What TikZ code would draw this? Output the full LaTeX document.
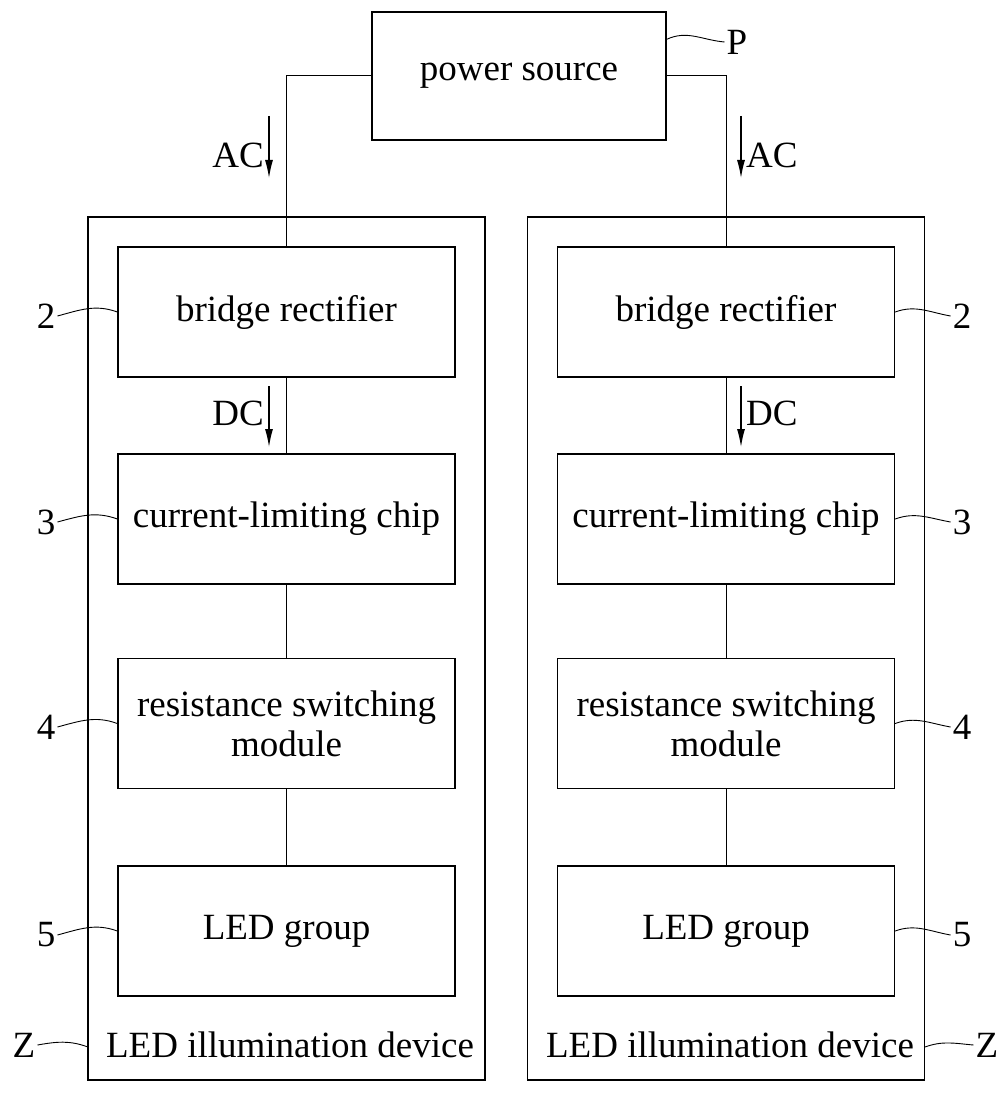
\documentclass[tikz,border=0pt]{standalone}
\usepackage{fontspec}
\setmainfont{Liberation Serif}
\usetikzlibrary{arrows.meta,positioning,calc}

\begin{document}
\begin{tikzpicture}[
  x=1pt, y=-1pt, font=\fontsize{37}{40}\selectfont,
  blk/.style={rectangle, draw=black, line width=1.3pt, fill=white,
              align=center, inner sep=0pt, minimum width=337pt, minimum height=130pt},
  dev/.style={rectangle, draw=black, line width=1.3pt,
              minimum width=397pt, minimum height=863pt},
  wire/.style={line width=1pt, draw=black},
  flow/.style={-{Latex[length=18pt,width=8pt]}, line width=1.2pt},
  lead/.style={line width=0.9pt, draw=black},
  num/.style={inner sep=2pt}]

  \useasboundingbox (0,0) rectangle (1005,1094);

  % ---------- devices ----------
  \node[dev] (devL) at (286.5,648.5) {};
  \node[dev] (devR) at (726,648.5) {};
  \node (txtL) at (290,1045) {LED illumination device};
  \node (txtR) at (730,1045) {LED illumination device};

  % ---------- power source ----------
  \node[blk,minimum width=294pt,minimum height=128pt] (ps) at (519,76) {power source};

  % ---------- left chain ----------
  \node[blk] (brL)  at (286.5,312) {bridge rectifier};
  \node[blk] (clL)  at (286.5,519) {current-limiting chip};
  \node[blk] (rsL)  at (286.5,723.5) {resistance switching\\module};
  \node[blk] (ledL) at (286.5,931) {LED group};

  % ---------- right chain ----------
  \node[blk] (brR)  at (726,312) {bridge rectifier};
  \node[blk] (clR)  at (726,519) {current-limiting chip};
  \node[blk] (rsR)  at (726,723.5) {resistance switching\\module};
  \node[blk] (ledR) at (726,931) {LED group};

  % supply wires
  \draw[wire] (ps.west) -- (ps.west -| brL.north) -- (brL.north);
  \draw[wire] (ps.east) -- (ps.east -| brR.north) -- (brR.north);
  \foreach \a/\b in {brL/clL, clL/rsL, rsL/ledL, brR/clR, clR/rsR, rsR/ledR}
    \draw[wire] (\a.south) -- (\b.north);

  % AC / DC arrows
  \coordinate (acLt) at (269,116);  \coordinate (acLb) at (269,178);
  \coordinate (acRt) at (741,116);  \coordinate (acRb) at (741,178);
  \coordinate (dcLt) at (269,386);  \coordinate (dcLb) at (269,447);
  \coordinate (dcRt) at (741,386);  \coordinate (dcRb) at (741,447);
  \draw[flow] (acLt) -- (acLb);
  \draw[flow] (acRt) -- (acRb);
  \draw[flow] (dcLt) -- (dcLb);
  \draw[flow] (dcRt) -- (dcRb);
  \node[anchor=east,inner sep=1pt] (acL) at (265,155) {AC};
  \node[anchor=west,inner sep=1pt] (acR) at (745,155) {AC};
  \node[anchor=east,inner sep=1pt] (dcL) at (265,413) {DC};
  \node[anchor=west,inner sep=1pt] (dcR) at (745,413) {DC};

  % ---------- reference numerals ----------
  \node[num] (P) at (737,42) {P};
  \draw[lead] ($(ps.north east)+(0,28)$) to[out=25,in=175] (P.west);

  \node[num] (l2) at (46,316) {2};
  \node[num] (l3) at (46,522) {3};
  \node[num] (l4) at (46,727) {4};
  \node[num] (l5) at (46,935) {5};
  \node[num] (r2) at (962,316) {2};
  \node[num] (r3) at (962,522) {3};
  \node[num] (r4) at (962,727) {4};
  \node[num] (r5) at (962,935) {5};
  \foreach \n/\b in {2/br, 3/cl, 4/rs, 5/led} {
    \draw[lead] (l\n.east) to[out=15,in=160] (\b L.west);
    \draw[lead] (\b R.east) to[out=20,in=170] (r\n.west);
  }

  \node[num] (zL) at (24,1045) {Z};
  \node[num] (zR) at (987,1045) {Z};
  \coordinate (zLe) at (88,1047);
  \coordinate (zRe) at (925,1047);
  \draw[lead] (zL.east) to[out=10,in=160] (zLe);
  \draw[lead] (zRe) to[out=20,in=175] (zR.west);

\end{tikzpicture}
\end{document}
